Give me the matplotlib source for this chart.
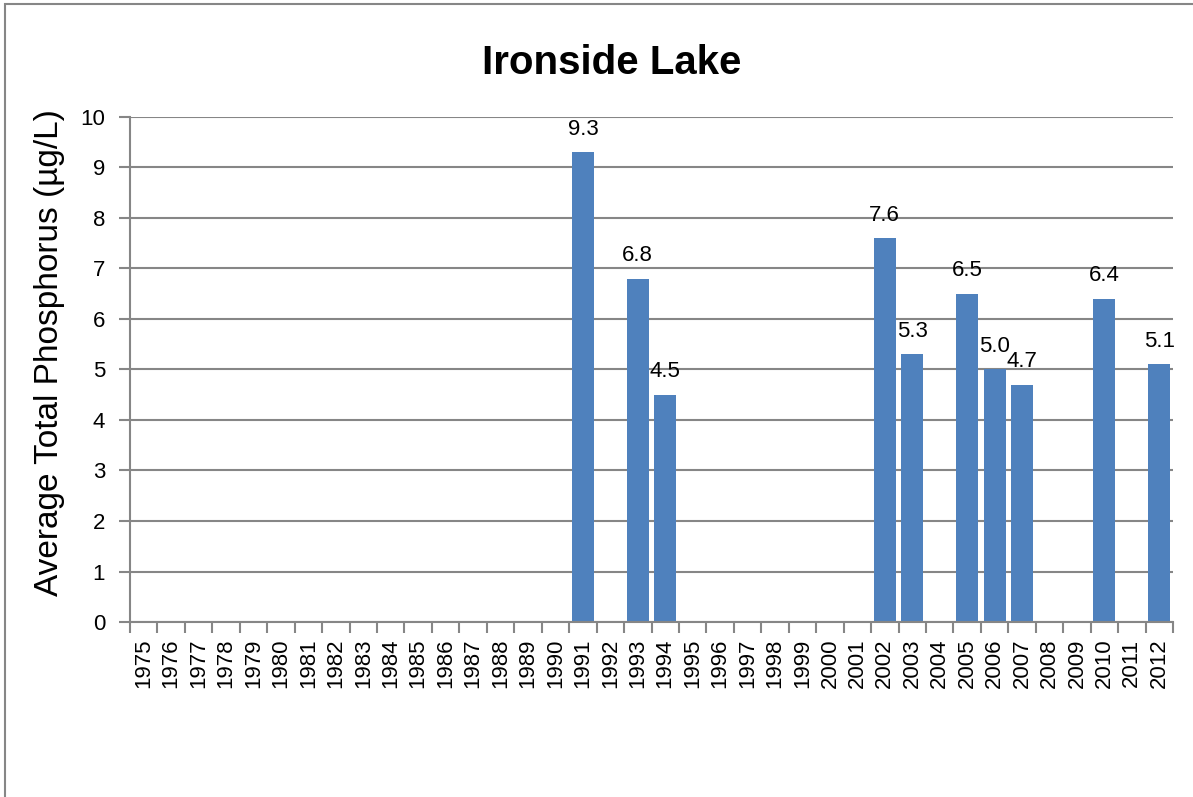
import matplotlib
matplotlib.use("Agg")
import matplotlib.pyplot as plt
import matplotlib.patches as mpatches
import numpy as np

plt.rcParams['font.family'] = ['Liberation Sans', 'DejaVu Sans']

years = [str(y) for y in range(1975, 2013)]
bar_years = ['1991', '1993', '1994', '2002', '2003', '2005', '2006', '2007', '2010', '2012']
bar_values = [9.3, 6.8, 4.5, 7.6, 5.3, 6.5, 5.0, 4.7, 6.4, 5.1]
title = "Ironside Lake"
ylabel = "Average Total Phosphorus (µg/L)"

W, H = 1193, 797
fig = plt.figure(figsize=(W / 100, H / 100), dpi=100)
ax = fig.add_axes([130 / W, 1 - 622 / H, (1173 - 130) / W, (622 - 117) / H])

grid_c = '#868686'
bar_c = '#4F81BD'

idx = [years.index(y) for y in bar_years]
ax.bar(idx, bar_values, width=0.8, color=bar_c, zorder=3)
for x, v in zip(idx, bar_values):
    ax.annotate(f"{v:.1f}", (x, v), xytext=(0, 9), textcoords='offset points',
                ha='center', va='bottom', fontsize=16, color='black')

ax.set_xlim(-0.5, len(years) - 0.5)
ax.set_ylim(0, 10)
ax.set_yticks(range(0, 11))
ax.set_yticklabels([str(i) for i in range(0, 11)], fontsize=16)
ax.set_xticks(range(len(years)))
ax.set_xticklabels(years, rotation=90, fontsize=16)
ax.set_xticks(np.arange(-0.5, len(years), 1.0), minor=True)
ax.tick_params(axis='x', which='major', length=0, pad=12)
ax.tick_params(axis='x', which='minor', length=8, width=1.5, color=grid_c)
ax.tick_params(axis='y', length=8, width=1.5, color=grid_c, pad=10)
ax.grid(axis='y', color=grid_c, linewidth=1.5, zorder=0)
for s in ['top', 'right']:
    ax.spines[s].set_visible(False)
for s in ['left', 'bottom']:
    ax.spines[s].set_color(grid_c)
    ax.spines[s].set_linewidth(1.5)
    ax.spines[s].set_zorder(4)

fig.text(612 / W, 1 - 63 / H, title, fontsize=29, fontweight='bold',
         ha='center', va='center')
fig.text(50 / W, 1 - 353 / H, ylabel, fontsize=24, rotation=90,
         ha='center', va='center')

rect = mpatches.Rectangle((5 / W, -0.1), 1.2, 1.1 - 4 / H, transform=fig.transFigure,
                          fill=False, edgecolor=grid_c, linewidth=1.5)
fig.patches.append(rect)

fig.savefig("out.png", dpi=100)
